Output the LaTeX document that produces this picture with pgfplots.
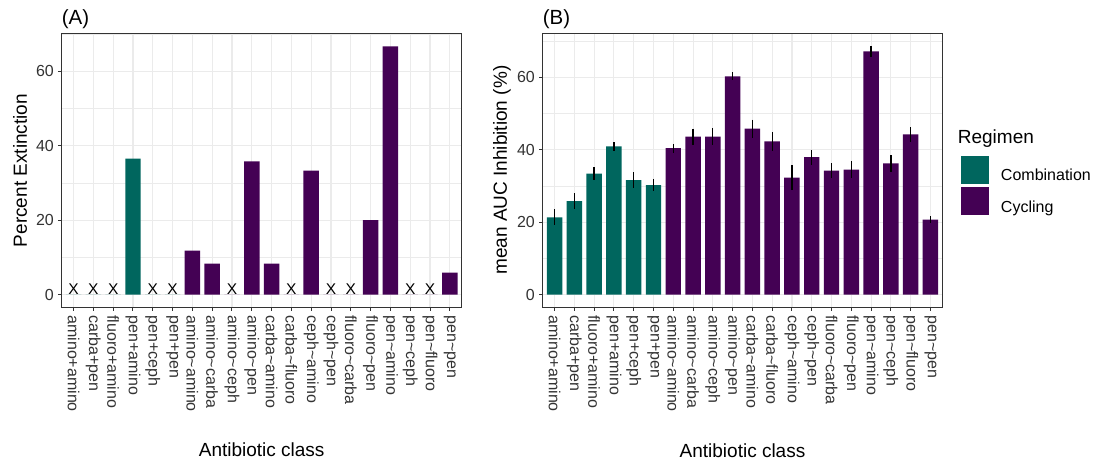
\documentclass[border=0pt]{standalone}
\usepackage{pgfplots}
\pgfplotsset{compat=1.18}
\usepackage{fontspec}
\setmainfont{Liberation Sans}

\definecolor{combo}{HTML}{00665E}
\definecolor{cyc}{HTML}{440154}
\definecolor{gridc}{HTML}{EBEBEB}
\definecolor{frame}{HTML}{333333}
\definecolor{ticktext}{HTML}{333333}
\newcommand{\tl}{\textasciitilde}
\newcommand{\fs}[1]{\fontsize{#1bp}{#1bp}\selectfont}

\pgfplotsset{
  panel/.style={
    scale only axis,
    xmin=0.4, xmax=20.6,
    xtick={1,...,20},
    xticklabels={amino+amino,carba+pen,fluoro+amino,pen+amino,pen+ceph,pen+pen,
      amino\tl amino,amino\tl carba,amino\tl ceph,amino\tl pen,carba\tl amino,
      carba\tl fluoro,ceph\tl amino,ceph\tl pen,fluoro\tl carba,fluoro\tl pen,
      pen\tl amino,pen\tl ceph,pen\tl fluoro,pen\tl pen},
    ytick={0,20,40,60}, minor ytick={10,30,50,70},
    tick pos=left,
    grid=both,
    major grid style={gridc, line width=1.1bp},
    minor grid style={gridc, line width=0.55bp},
    axis line style={frame, line width=1bp},
    tick align=outside, major tick length=3.7bp, minor tick length=0pt,
    major tick style={frame, line width=1bp},
    /pgf/number format/assume math mode=true,
    xticklabel style={rotate=-90, anchor=west, font=\fs{16}, text=ticktext, inner sep=0pt},
    xticklabel shift=4.5bp,
    yticklabel style={font=\fs{16}, text=ticktext, inner sep=0pt},
    yticklabel shift=4bp,
    xlabel={Antibiotic class},
    xlabel style={at={(axis description cs:0.5,-0.549)}, anchor=base, font=\fs{19}, inner sep=0pt},
    ylabel style={anchor=center, font=\fs{19}, inner sep=0pt},
    title style={anchor=base west, font=\fs{20.5}, inner sep=0pt},
  },
  sqlegend/.style={legend image code/.code={\fill[##1] (0bp,-8.2bp) rectangle (28.6bp,19.8bp);}},
}

\begin{document}
\begin{tikzpicture}
\useasboundingbox (0bp,0bp) rectangle (1095bp,460bp);

% (A) percent of runs ending in extinction
\begin{axis}[panel,
  at={(61.7bp,153bp)}, anchor=south west,
  width=400bp, height=273bp,
  ymin=-3.333, ymax=70,
  ylabel={Percent Extinction},
  ylabel style={at={(axis description cs:-0.104,0.5)}},
  title={(A)},
  title style={at={(axis description cs:0,1.012)}},
]
\addplot[ybar, bar width=0.78, fill=combo, draw=none] coordinates {
  (1,0) (2,0) (3,0) (4,36.5) (5,0) (6,0)
};
\addplot[ybar, bar width=0.78, fill=cyc, draw=none] coordinates {
  (7,11.8) (8,8.33) (9,0) (10,35.8) (11,8.33) (12,0) (13,33.33)
  (14,0) (15,0) (16,20) (17,66.67) (18,0) (19,0) (20,5.88)
};
% zero-extinction regimens are flagged with an X
\addplot[draw=none, mark=none, nodes near coords={X},
  nodes near coords style={anchor=base, font=\fs{15.5}, inner sep=0pt, text=black}]
  coordinates {
  (1,0) (2,0) (3,0) (5,0) (6,0) (9,0) (12,0) (14,0) (15,0) (18,0) (19,0)
};
\end{axis}

% (B) mean AUC inhibition with error bars
\begin{axis}[panel,
  at={(542.7bp,153bp)}, anchor=south west,
  width=399.6bp, height=273.7bp,
  ymin=-3.43, ymax=72.1,
  ylabel={mean AUC Inhibition (\%)},
  ylabel style={at={(axis description cs:-0.102,0.5)}},
  title={(B)},
  title style={at={(axis description cs:0,1.0095)}},
  legend style={at={(axis description cs:1.046,0.5517)}, anchor=north west,
    draw=none, fill=none, inner sep=0pt, outer sep=0pt, font=\fs{16},
    row sep=3.3bp, nodes={inner sep=0pt},
    /tikz/every odd column/.append style={column sep=11.7bp}},
  legend cell align=left,
  after end axis/.code={
    \node[anchor=base west, font=\fs{19}, inner sep=0pt]
      at (axis description cs:1.0385,0.598) {Regimen};
  },
]
\addplot[ybar, bar width=0.78, fill=combo, draw=none, sqlegend,
  error bars/.cd, y dir=both, y explicit, error mark=none,
  error bar style={draw=black, line width=1.3bp}] coordinates {
  (1,21.3) +- (0,2.2)
  (2,25.8) +- (0,2.1)
  (3,33.4) +- (0,1.8)
  (4,40.9) +- (0,1.2)
  (5,31.6) +- (0,2.2)
  (6,30.2) +- (0,1.7)
};
\addlegendentry{Combination}
\addplot[ybar, bar width=0.78, fill=cyc, draw=none, sqlegend,
  error bars/.cd, y dir=both, y explicit, error mark=none,
  error bar style={draw=black, line width=1.3bp}] coordinates {
  (7,40.4) +- (0,1.2)
  (8,43.6) +- (0,2.2)
  (9,43.6) +- (0,2.4)
  (10,60.2) +- (0,1.1)
  (11,45.8) +- (0,2.5)
  (12,42.3) +- (0,2.6)
  (13,32.3) +- (0,3.5)
  (14,37.9) +- (0,2.1)
  (15,34.2) +- (0,2.1)
  (16,34.5) +- (0,2.4)
  (17,67.1) +- (0,1.5)
  (18,36.2) +- (0,2.3)
  (19,44.2) +- (0,2.0)
  (20,20.7) +- (0,1.0)
};
\addlegendentry{Cycling}
\end{axis}
\end{tikzpicture}
\end{document}
